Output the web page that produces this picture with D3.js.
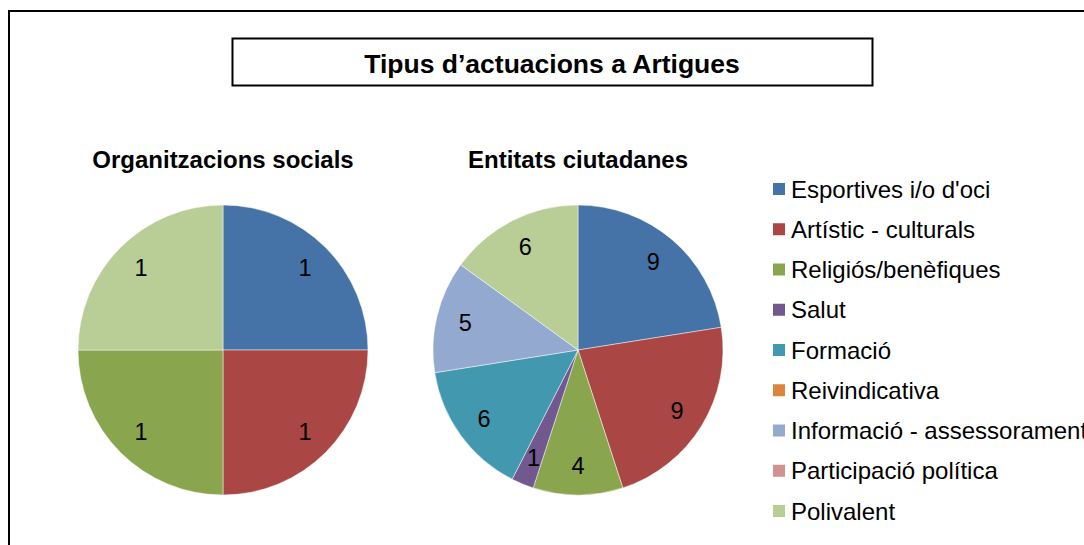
<!DOCTYPE html>
<html>
<head>
<meta charset="utf-8">
<script src="https://cdn.jsdelivr.net/npm/d3@7"></script>
<style>
    body { margin: 0; background: #fff; }
    text { font-family: "Liberation Sans", Arial, sans-serif; }
</style>
</head>
<body>
<div id="chart"></div>
<script>
// categories and values
const categories = [
    "Esportives i/o d'oci",
    "Artístic - culturals",
    "Religiós/benèfiques",
    "Salut",
    "Formació",
    "Reivindicativa",
    "Informació - assessorament",
    "Participació política",
    "Polivalent"
]
const colors = ["#4572A7", "#AA4643", "#89A54E", "#71588F", "#4198AF", "#DB843D", "#93A9CF", "#D19392", "#B9CD96"]
const organitzacions = [1, 1, 1, 0, 0, 0, 0, 0, 1]
const entitats = [9, 9, 4, 1, 6, 0, 5, 0, 6]
const title = "Tipus d\u2019actuacions a Artigues"
const pieTitles = ["Organitzacions socials", "Entitats ciutadanes"]

const width = 1084
const height = 545
const svg = d3.select("#chart").append("svg")
    .attr("width", width)
    .attr("height", height)

// outer frame
svg.append("rect")
    .attr("x", 9).attr("y", 11)
    .attr("width", 1090).attr("height", 560)
    .attr("fill", "none")
    .attr("stroke", "#000")
    .attr("stroke-width", 2)

// title box
svg.append("rect")
    .attr("x", 232.5).attr("y", 38.5)
    .attr("width", 640).attr("height", 47)
    .attr("fill", "#fff")
    .attr("stroke", "#000")
    .attr("stroke-width", 2)
svg.append("text")
    .attr("x", 552).attr("y", 73)
    .attr("text-anchor", "middle")
    .attr("font-size", 26.5)
    .attr("font-weight", "bold")
    .text(title)

const color = d3.scaleOrdinal().domain(categories).range(colors)
const radius = 145
const pie = d3.pie().sort(null).value(d => d.value)
const arc = d3.arc().innerRadius(0).outerRadius(radius)
const labelArc = d3.arc().innerRadius(radius * 0.8).outerRadius(radius * 0.8)

function drawPie(values, cx, name) {
    const data = categories.map((c, i) => ({name: c, value: values[i]}))
    const g = svg.append("g").attr("transform", "translate(" + cx + ",350)")
    const arcs = pie(data).filter(d => d.value > 0)
    g.selectAll("path")
        .data(arcs)
        .enter()
        .append("path")
        .attr("d", arc)
        .attr("fill", d => color(d.data.name))
        .attr("stroke", "#fff")
        .attr("stroke-opacity", 0.6)
        .attr("stroke-width", 0.8)
    g.selectAll("text.lbl")
        .data(arcs)
        .enter()
        .append("text")
        .attr("class", "lbl")
        .attr("transform", d => "translate(" + labelArc.centroid(d) + ")")
        .attr("text-anchor", "middle")
        .attr("dy", "0.36em")
        .attr("font-size", 23.5)
        .text(d => d.value)
    svg.append("text")
        .attr("x", cx).attr("y", 168)
        .attr("text-anchor", "middle")
        .attr("font-size", 24)
        .attr("font-weight", "bold")
        .text(name)
}

drawPie(organitzacions, 223, pieTitles[0])
drawPie(entitats, 578, pieTitles[1])

// legend (the last long label runs past the right edge, as in the original)
const legendY = d3.scalePoint().domain(categories).range([189, 511])
const legend = svg.selectAll("g.legend")
    .data(categories)
    .enter()
    .append("g")
    .attr("class", "legend")
    .attr("transform", d => "translate(773," + legendY(d) + ")")
legend.append("rect")
    .attr("x", 0).attr("y", -6)
    .attr("width", 12).attr("height", 12)
    .attr("fill", d => color(d))
legend.append("text")
    .attr("x", 18)
    .attr("dy", "0.36em")
    .attr("font-size", 24)
    .text(d => d)
</script>
</body>
</html>
